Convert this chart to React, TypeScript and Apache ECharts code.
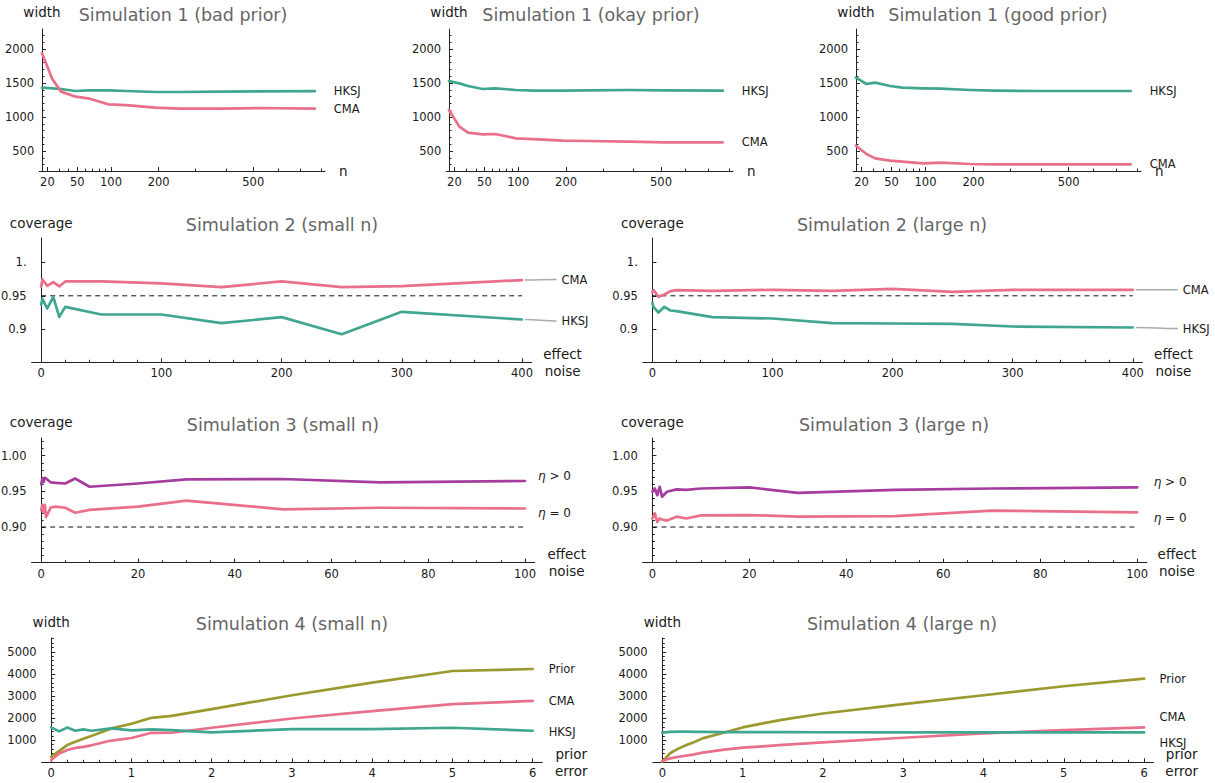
import React, { useEffect, useRef } from "react";
import * as echarts from "echarts";

// ---------------- colours / fonts ----------------
const TEAL = "#41A690";
const PINK = "#E8708A";
const PURPLE = "#A43D9E";
const OLIVE = "#9B992F";
const AX = "#222222";
const FONT = "DejaVu Sans";

// ---------------- Simulation 1 (x is n, drawn on a square-root scale) ----------------
const s1N = [16, 24, 32, 48, 64, 96, 128, 192, 256, 384, 512, 768];
const s1BadHKSJ = [1431, 1422, 1412, 1382, 1392, 1392, 1382, 1368, 1368, 1373, 1377, 1380];
const s1BadCMA = [1936, 1559, 1373, 1299, 1275, 1186, 1176, 1137, 1123, 1123, 1132, 1123];
const s1OkayHKSJ = [1529, 1495, 1456, 1412, 1422, 1397, 1387, 1387, 1392, 1397, 1392, 1387];
const s1OkayCMA = [1103, 858, 770, 745, 750, 686, 676, 652, 647, 637, 627, 627];
const s1GoodHKSJ = [1578, 1485, 1505, 1456, 1431, 1422, 1417, 1397, 1387, 1382, 1382, 1382];
const s1GoodCMA = [578, 456, 392, 358, 343, 319, 328, 309, 304, 304, 304, 304];
const s1XTicks = [20, 50, 100, 200, 500];
const s1XMinorTicks = [30, 40, 60, 70, 80, 90, 300, 400, 600, 700, 800];
const s1YTicks = [500, 1000, 1500, 2000];

// ---------------- Simulation 2 ----------------
const s2X = [0, 1, 5, 10, 15, 20, 50, 100, 150, 200, 250, 300, 400];
const s2SmallCMA = [0.9636, 0.9745, 0.965, 0.9705, 0.964, 0.9715, 0.9715, 0.9687, 0.963, 0.9717, 0.963, 0.9645, 0.9735];
const s2SmallHKSJ = [0.937, 0.9455, 0.931, 0.9485, 0.9185, 0.9335, 0.922, 0.922, 0.909, 0.918, 0.8925, 0.926, 0.9145];
const s2LargeCMA = [0.9555, 0.9585, 0.9485, 0.952, 0.957, 0.9585, 0.9575, 0.959, 0.9575, 0.9605, 0.956, 0.959, 0.959];
const s2LargeHKSJ = [0.9395, 0.933, 0.925, 0.9335, 0.928, 0.927, 0.918, 0.916, 0.909, 0.9085, 0.908, 0.904, 0.9025];
const s2XTicks = [0, 100, 200, 300, 400];
const s2YTicks = [0.9, 0.95, 1];
const s2YTickLabels = ["0.9", "0.95", "1."];
const s2Target = 0.95;

// ---------------- Simulation 3 ----------------
const s3SmallX = [0, 0.25, 0.5, 0.75, 1, 2, 3, 5, 7, 10, 20, 30, 50, 70, 100];
const s3SmallEtaPos = [0.96, 0.968, 0.963, 0.969, 0.968, 0.9625, 0.962, 0.961, 0.968, 0.9565, 0.961, 0.9668, 0.9673, 0.9626, 0.9645];
const s3SmallEtaZero = [0.9238, 0.931, 0.921, 0.931, 0.914, 0.9276, 0.9285, 0.927, 0.92, 0.924, 0.9285, 0.937, 0.9248, 0.927, 0.926];
const s3LargeX = [0, 0.5, 1, 1.5, 2, 3, 5, 7, 10, 20, 30, 50, 70, 100];
const s3LargeEtaPos = [0.9495, 0.954, 0.9446, 0.9563, 0.9425, 0.9495, 0.9528, 0.952, 0.954, 0.9556, 0.948, 0.952, 0.954, 0.9556];
const s3LargeEtaZero = [0.912, 0.919, 0.907, 0.912, 0.9105, 0.909, 0.9145, 0.912, 0.9163, 0.9168, 0.9145, 0.9154, 0.923, 0.9206];
const s3XTicks = [0, 20, 40, 60, 80, 100];
const s3YTicks = [0.9, 0.95, 1];
const s3YTickLabels = ["0.90", "0.95", "1.00"];
const s3Target = 0.9;

// ---------------- Simulation 4 ----------------
const s4X = [0, 0.1, 0.2, 0.3, 0.4, 0.5, 0.75, 1, 1.25, 1.5, 2, 3, 4, 5, 6];
const s4SmallPrior = [250, 520, 780, 930, 1070, 1190, 1535, 1745, 2015, 2105, 2406, 3038, 3609, 4135, 4226];
const s4SmallCMA = [105, 400, 560, 650, 700, 770, 985, 1100, 1337, 1338, 1564, 1985, 2316, 2632, 2782];
const s4SmallHKSJ = [1580, 1400, 1572, 1428, 1489, 1428, 1535, 1443, 1489, 1459, 1353, 1504, 1504, 1564, 1429];
const s4LargePrior = [30, 420, 620, 780, 920, 1083, 1330, 1579, 1760, 1930, 2210, 2632, 3038, 3444, 3789];
const s4LargeCMA = [60, 180, 250, 300, 360, 436, 560, 662, 720, 790, 902, 1113, 1308, 1459, 1579];
const s4LargeHKSJ = [1340, 1375, 1385, 1385, 1380, 1380, 1370, 1365, 1365, 1370, 1360, 1355, 1355, 1355, 1355];
const s4XTicks = [0, 1, 2, 3, 4, 5, 6];
const s4YTicks = [1000, 2000, 3000, 4000, 5000];

// ---------------- helpers ----------------
const steps = (from: number, to: number, step: number, skipEvery: number) => {
  const out: number[] = [];
  const n = Math.round((to - from) / step);
  for (let k = 0; k <= n; k++) {
    const v = +(from + k * step).toFixed(6);
    const r = v / skipEvery;
    if (Math.abs(r - Math.round(r)) > 1e-6) out.push(v);
  }
  return out;
};
const sqrtX = (n: number) => Math.sqrt(n) - 4; // square-root scale, 0 at n = 16

type S = { label: string; color: string; x: number[]; y: number[]; dist: number; dy: number; eta?: boolean; connector?: boolean };
type Panel = {
  rect: [number, number, number, number];
  xMin: number; xMax: number; yMin: number; yMax: number;
  xTicks: number[]; xLabels: string[]; xMinor: number[];
  yTicks: number[]; yLabels: string[]; yMinor: number[];
  xName: string; xNameGap: number; xNameAlign: string;
  yName: string; yNameGap: number;
  title: string; titlePos: [number, number];
  series: S[];
  target?: number; targetEnd?: number;
};

const top = (rect: [number, number, number, number], title: string, tx: number, hk: number[], cma: number[], cmaDy: number): Panel => ({
  rect, xMin: -0.24, xMax: 24.6, yMin: 206, yMax: 2294,
  xTicks: s1XTicks.map(sqrtX), xLabels: s1XTicks.map(String), xMinor: s1XMinorTicks.map(sqrtX),
  yTicks: s1YTicks, yLabels: s1YTicks.map(String), yMinor: steps(300, 2200, 100, 500),
  xName: "n", xNameGap: 14, xNameAlign: "left", yName: "width", yNameGap: 17,
  title, titlePos: [tx, 15],
  series: [
    { label: "HKSJ", color: TEAL, x: s1N.map(sqrtX), y: hk, dist: 19, dy: 0 },
    { label: "CMA", color: PINK, x: s1N.map(sqrtX), y: cma, dist: 19, dy: cmaDy },
  ],
});

const panels: Panel[] = [
  top([39.2, 29, 285.8, 142], "Simulation 1 (bad prior)", 183, s1BadHKSJ, s1BadCMA, 0),
  top([446.2, 29, 286.8, 142], "Simulation 1 (okay prior)", 591, s1OkayHKSJ, s1OkayCMA, 0),
  top([853.2, 29, 287.8, 142], "Simulation 1 (good prior)", 998, s1GoodHKSJ, s1GoodCMA, 0),
  {
    rect: [31.6, 238, 500, 124.3], xMin: -8, xMax: 408, yMin: 0.8504, yMax: 1.0366,
    xTicks: s2XTicks, xLabels: s2XTicks.map(String), xMinor: steps(20, 400, 20, 100),
    yTicks: s2YTicks, yLabels: s2YTickLabels, yMinor: [],
    xName: "effect\nnoise", xNameGap: 31, xNameAlign: "center", yName: "coverage", yNameGap: 15,
    title: "Simulation 2 (small n)", titlePos: [282, 225],
    series: [
      { label: "CMA", color: PINK, x: s2X, y: s2SmallCMA, dist: 39.5, dy: -0.5, connector: true },
      { label: "HKSJ", color: TEAL, x: s2X, y: s2SmallHKSJ, dist: 39.5, dy: 1.5, connector: true },
    ],
    target: s2Target, targetEnd: 400,
  },
  {
    rect: [642.8, 238, 499.6, 124.3], xMin: -8, xMax: 408, yMin: 0.8504, yMax: 1.0366,
    xTicks: s2XTicks, xLabels: s2XTicks.map(String), xMinor: steps(20, 400, 20, 100),
    yTicks: s2YTicks, yLabels: s2YTickLabels, yMinor: [],
    xName: "effect\nnoise", xNameGap: 31, xNameAlign: "center", yName: "coverage", yNameGap: 15,
    title: "Simulation 2 (large n)", titlePos: [892, 225],
    series: [
      { label: "CMA", color: PINK, x: s2X, y: s2LargeCMA, dist: 50, dy: 0, connector: true },
      { label: "HKSJ", color: TEAL, x: s2X, y: s2LargeHKSJ, dist: 50, dy: 1, connector: true },
    ],
    target: s2Target, targetEnd: 400,
  },
  {
    rect: [31.5, 438, 503.2, 124.7], xMin: -2, xMax: 102, yMin: 0.85, yMax: 1.0248,
    xTicks: s3XTicks, xLabels: s3XTicks.map(String), xMinor: steps(5, 100, 5, 20),
    yTicks: s3YTicks, yLabels: s3YTickLabels, yMinor: steps(0.86, 1.02, 0.01, 0.05),
    xName: "effect\nnoise", xNameGap: 32, xNameAlign: "center", yName: "coverage", yNameGap: 16,
    title: "Simulation 3 (small n)", titlePos: [283, 425],
    series: [
      { label: "{i|η} > 0", color: PURPLE, x: s3SmallX, y: s3SmallEtaPos, dist: 13, dy: -5, eta: true },
      { label: "{i|η} = 0", color: PINK, x: s3SmallX, y: s3SmallEtaZero, dist: 13, dy: 4.5, eta: true },
    ],
    target: s3Target, targetEnd: 100,
  },
  {
    rect: [642.7, 438, 504.2, 124.7], xMin: -2, xMax: 102, yMin: 0.85, yMax: 1.0248,
    xTicks: s3XTicks, xLabels: s3XTicks.map(String), xMinor: steps(5, 100, 5, 20),
    yTicks: s3YTicks, yLabels: s3YTickLabels, yMinor: steps(0.86, 1.02, 0.01, 0.05),
    xName: "effect\nnoise", xNameGap: 30, xNameAlign: "center", yName: "coverage", yNameGap: 16,
    title: "Simulation 3 (large n)", titlePos: [894, 425],
    series: [
      { label: "{i|η} > 0", color: PURPLE, x: s3LargeX, y: s3LargeEtaPos, dist: 16.5, dy: -5, eta: true },
      { label: "{i|η} = 0", color: PINK, x: s3LargeX, y: s3LargeEtaZero, dist: 16.5, dy: 5.5, eta: true },
    ],
    target: s3Target, targetEnd: 100,
  },
  {
    rect: [41.6, 638, 500.7, 124.3], xMin: -0.12, xMax: 6.12, yMin: 0, yMax: 5630,
    xTicks: s4XTicks, xLabels: s4XTicks.map(String), xMinor: steps(0.2, 6, 0.2, 1),
    yTicks: s4YTicks, yLabels: s4YTicks.map(String), yMinor: steps(200, 5600, 200, 1000),
    xName: "prior\nerror", xNameGap: 29, xNameAlign: "center", yName: "width", yNameGap: 16,
    title: "Simulation 4 (small n)", titlePos: [292, 624],
    series: [
      { label: "Prior", color: OLIVE, x: s4X, y: s4SmallPrior, dist: 16, dy: 0 },
      { label: "CMA", color: PINK, x: s4X, y: s4SmallCMA, dist: 16, dy: 0 },
      { label: "HKSJ", color: TEAL, x: s4X, y: s4SmallHKSJ, dist: 16, dy: 1 },
    ],
  },
  {
    rect: [652.7, 638, 501, 124.3], xMin: -0.12, xMax: 6.12, yMin: 0, yMax: 5630,
    xTicks: s4XTicks, xLabels: s4XTicks.map(String), xMinor: steps(0.2, 6, 0.2, 1),
    yTicks: s4YTicks, yLabels: s4YTicks.map(String), yMinor: steps(200, 5600, 200, 1000),
    xName: "prior\nerror", xNameGap: 28, xNameAlign: "center", yName: "width", yNameGap: 16,
    title: "Simulation 4 (large n)", titlePos: [902, 624],
    series: [
      { label: "Prior", color: OLIVE, x: s4X, y: s4LargePrior, dist: 15.5, dy: 0 },
      { label: "CMA", color: PINK, x: s4X, y: s4LargeCMA, dist: 15.5, dy: -10 },
      { label: "HKSJ", color: TEAL, x: s4X, y: s4LargeHKSJ, dist: 15.5, dy: 10.5 },
    ],
  },
];

const fmtFrom = (ticks: number[], labels: string[]) => (v: number) => {
  const i = ticks.findIndex((t) => Math.abs(t - v) < 1e-6);
  return i >= 0 ? labels[i] : "";
};

function buildOption() {
  const grid: any[] = [];
  const xAxis: any[] = [];
  const yAxis: any[] = [];
  const series: any[] = [];
  panels.forEach((p, i) => {
    grid.push({ left: p.rect[0], top: p.rect[1], width: p.rect[2], height: p.rect[3], containLabel: false, outerBoundsMode: "none" });
    const nameStyle = { fontSize: 13.5, color: "#1a1a1a", fontFamily: FONT, lineHeight: 17.5 };
    xAxis.push({
      type: "value", gridIndex: i, min: p.xMin, max: p.xMax, position: "bottom",
      axisLine: { show: true, onZero: false, lineStyle: { color: AX, width: 1 } },
      axisTick: { show: true, inside: true, length: 4, customValues: p.xTicks, lineStyle: { color: AX, width: 1 } },
      axisLabel: { show: true, customValues: p.xTicks, formatter: fmtFrom(p.xTicks, p.xLabels), margin: 5, color: "#1a1a1a", fontSize: 11.5, fontFamily: FONT },
      splitLine: { show: false },
      name: p.xName, nameLocation: "end", nameGap: p.xNameGap,
      nameTextStyle: { ...nameStyle, align: p.xNameAlign, verticalAlign: "middle" },
      nameMoveOverlap: false,
    });
    xAxis.push({
      type: "value", gridIndex: i, min: p.xMin, max: p.xMax, position: "bottom",
      axisLine: { show: false, onZero: false },
      axisTick: { show: true, inside: true, length: 2.5, customValues: p.xMinor, lineStyle: { color: AX, width: 1 } },
      axisLabel: { show: false }, splitLine: { show: false },
    });
    yAxis.push({
      type: "value", gridIndex: i, min: p.yMin, max: p.yMax, position: "left",
      axisLine: { show: true, onZero: true, onZeroAxisIndex: 2 * i, lineStyle: { color: AX, width: 1 } },
      axisTick: { show: true, inside: true, length: 4, customValues: p.yTicks, lineStyle: { color: AX, width: 1 } },
      axisLabel: { show: true, customValues: p.yTicks, formatter: fmtFrom(p.yTicks, p.yLabels), margin: 5, color: "#1a1a1a", fontSize: 11.5, fontFamily: FONT },
      splitLine: { show: false },
      name: p.yName, nameLocation: "end", nameGap: p.yNameGap,
      nameTextStyle: { ...nameStyle, align: "center", verticalAlign: "middle" },
      nameMoveOverlap: false,
    });
    yAxis.push({
      type: "value", gridIndex: i, min: p.yMin, max: p.yMax, position: "left",
      axisLine: { show: false, onZero: true, onZeroAxisIndex: 2 * i },
      axisTick: { show: p.yMinor.length > 0, inside: true, length: 2.5, customValues: p.yMinor, lineStyle: { color: AX, width: 1 } },
      axisLabel: { show: false }, splitLine: { show: false },
    });
    if (p.target !== undefined) {
      series.push({
        type: "line", xAxisIndex: 2 * i, yAxisIndex: 2 * i, silent: true, symbol: "none",
        data: [[0, p.target], [p.targetEnd, p.target]],
        lineStyle: { color: "#111", width: 1, type: [5, 4] }, z: 2,
      });
    }
    p.series.forEach((s) => {
      series.push({
        type: "line", xAxisIndex: 2 * i, yAxisIndex: 2 * i, silent: true, symbol: "none", showSymbol: false,
        data: s.x.map((x, k) => [x, s.y[k]]),
        lineStyle: { color: s.color, width: 2.7, cap: "round", join: "round" },
        itemStyle: { color: s.color }, z: 3,
        endLabel: {
          show: true, formatter: s.label, distance: s.dist, offset: [0, s.dy],
          color: "#1a1a1a", fontSize: s.eta ? 12 : 11.5, fontFamily: FONT,
          rich: s.eta ? { i: { fontStyle: "italic", fontSize: 12, fontFamily: FONT, color: "#1a1a1a" } } : undefined,
        },
      });
    });
  });
  return {
    animation: false, backgroundColor: "#ffffff",
    textStyle: { fontFamily: FONT },
    grid, xAxis, yAxis, series,
  };
}

export default function App() {
  const ref = useRef<HTMLDivElement>(null);
  useEffect(() => {
    if (!ref.current) return;
    const chart = echarts.init(ref.current, undefined, { renderer: "svg" });
    chart.setOption(buildOption() as any);
    const els: any[] = panels.map((p) => ({
      type: "text", x: p.titlePos[0], y: p.titlePos[1], silent: true,
      style: { text: p.title, fontSize: 17.5, fontFamily: FONT, fill: "#666666", align: "center", verticalAlign: "middle" },
    }));
    panels.forEach((p, i) => {
      p.series.forEach((s) => {
        if (!s.connector) return;
        const last = s.x.length - 1;
        const pt = chart.convertToPixel({ xAxisIndex: 2 * i, yAxisIndex: 2 * i } as any, [s.x[last], s.y[last]]) as number[];
        const x1 = pt[0] + 3, y1 = pt[1];
        const x2 = pt[0] + s.dist - 5, y2 = pt[1] + s.dy;
        const mx = (x1 + x2) / 2;
        els.push({
          type: "bezierCurve", silent: true,
          shape: { x1, y1, x2, y2, cpx1: mx, cpy1: y1, cpx2: mx, cpy2: y2 },
          style: { stroke: "#aaaaaa", lineWidth: 1.5, fill: null },
        });
      });
    });
    chart.setOption({ graphic: els });
    return () => chart.dispose();
  }, []);
  return (
    <div
      ref={ref}
      style={{ position: "fixed", left: 0, top: 0, width: 1215, height: 783, background: "#fff" }}
    />
  );
}
